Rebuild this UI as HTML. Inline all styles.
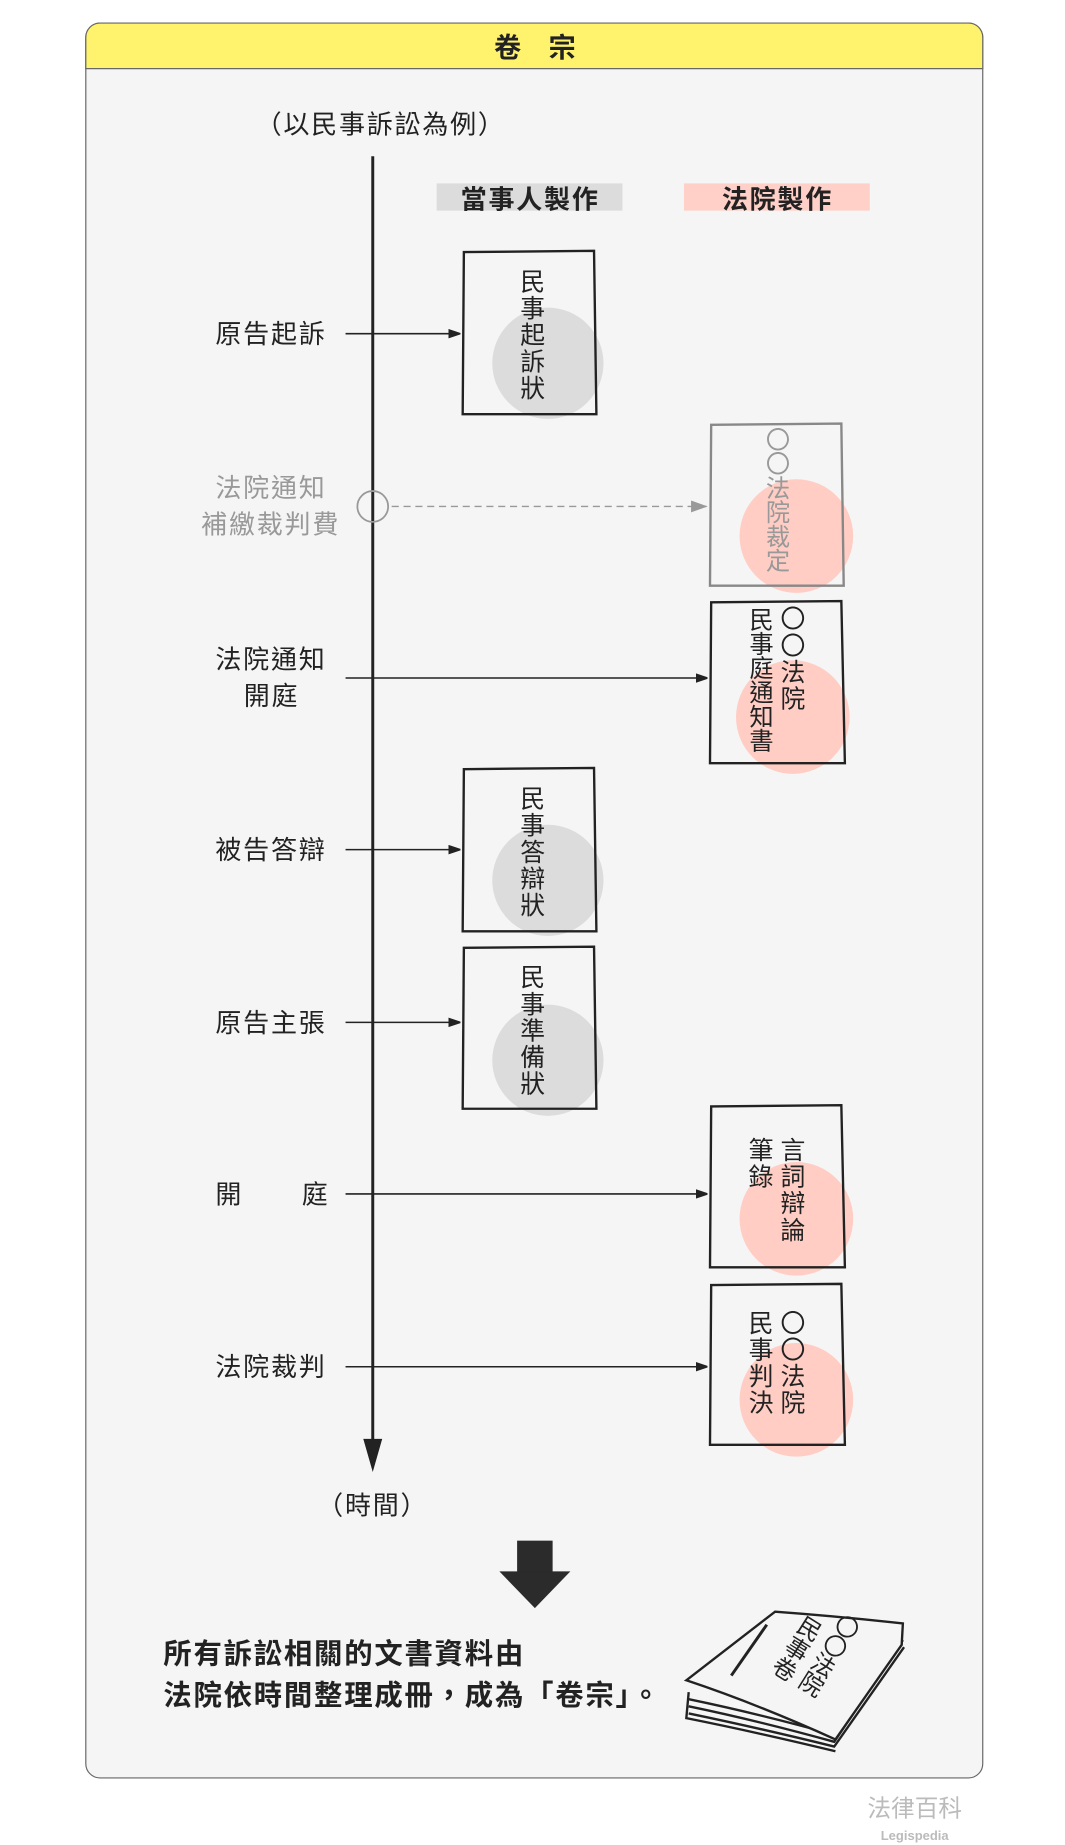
<!DOCTYPE html>
<html><head><meta charset="utf-8"><style>
html,body{margin:0;padding:0;background:#fff;}
svg{display:block;}
text{font-family:"Liberation Sans","Noto Sans CJK TC",sans-serif;}
.v{writing-mode:vertical-rl;letter-spacing:1.5px;font-size:21px;fill:#222;}
.v6{letter-spacing:0px;font-size:20.5px;}
.lbl{font-size:22px;fill:#222;letter-spacing:1.5px;}
.box{fill:none;stroke:#222;stroke-width:2;}
</style></head><body>
<svg width="1065" height="1845" viewBox="0 0 900 1559.2" xmlns="http://www.w3.org/2000/svg">
<defs>
<marker id="ah" markerWidth="10" markerHeight="8" refX="9" refY="4" orient="auto" markerUnits="userSpaceOnUse"><path d="M0,0 L12,4 L0,8z" fill="#222"/></marker>
<marker id="ahg" markerWidth="14" markerHeight="10" refX="13" refY="5" orient="auto" markerUnits="userSpaceOnUse"><path d="M0,0 L14,5 L0,10z" fill="#999"/></marker>
</defs>
<rect x="72.5" y="19.5" width="758" height="1483" rx="12" fill="#f5f5f5" stroke="#666" stroke-width="1"/>
<path d="M72.5,58 V31.5 a12,12 0 0 1 12,-12 H818.5 a12,12 0 0 1 12,12 V58 Z" fill="#fff36e" stroke="#666" stroke-width="1"/>
<text x="452" y="48" text-anchor="middle" font-size="23" font-weight="bold" fill="#222">卷　宗</text>
<text x="216" y="113" class="lbl">（以民事訴訟為例）</text>
<line x1="315" y1="132" x2="315" y2="1222" stroke="#222" stroke-width="2.5"/>
<path d="M307,1216 L323,1216 L315,1244 Z" fill="#222"/>
<text x="315" y="1280" text-anchor="middle" class="lbl">（時間）</text>
<rect x="369" y="155" width="157" height="23" fill="#dcdcdc"/>
<text x="448" y="176" text-anchor="middle" font-size="22" font-weight="bold" fill="#222" letter-spacing="1.5">當事人製作</text>
<rect x="578" y="155" width="157" height="23" fill="#ffd0c8"/>
<text x="657" y="176" text-anchor="middle" font-size="22" font-weight="bold" fill="#222" letter-spacing="1.5">法院製作</text>

<text x="182" y="290" class="lbl">原告起訴</text>
<line x1="292" y1="282" x2="388" y2="282" stroke="#222" stroke-width="1.3" marker-end="url(#ah)"/>
<circle cx="463" cy="307" r="47" fill="#dcdcdc"/>
<path class="box" d="M392,213 L502,212 L504,350 L391,350 Z"/>
<text x="448" y="227" class="v">民事起訴狀</text>

<text x="182" y="420" class="lbl" style="fill:#999">法院通知</text>
<text x="170" y="451" class="lbl" style="fill:#999">補繳裁判費</text>
<ellipse cx="315" cy="428" rx="13" ry="13" fill="none" stroke="#999" stroke-width="1.5"/>
<line x1="331" y1="428" x2="597" y2="428" stroke="#999" stroke-width="1.2" stroke-dasharray="6,4" marker-end="url(#ahg)"/>
<circle cx="673" cy="453" r="48" fill="#ffcdc4"/>
<path d="M601,359 L711,358 L713,495 L600,495 Z" fill="none" stroke="#888" stroke-width="2"/>
<text x="655" y="361" class="v v6" style="fill:#999">〇〇法院裁定</text>

<text x="182" y="565" class="lbl">法院通知</text>
<text x="206" y="596" class="lbl">開庭</text>
<line x1="292" y1="573" x2="597" y2="573" stroke="#222" stroke-width="1.3" marker-end="url(#ah)"/>
<circle cx="670" cy="606" r="48" fill="#ffcdc4"/>
<path class="box" d="M601,509 L711,508 L714,645 L600,645 Z"/>
<text x="668" y="512" class="v">〇〇法院</text>
<text x="641" y="513" class="v v6">民事庭通知書</text>

<text x="182" y="726" class="lbl">被告答辯</text>
<line x1="292" y1="718" x2="388" y2="718" stroke="#222" stroke-width="1.3" marker-end="url(#ah)"/>
<circle cx="463" cy="744" r="47" fill="#dcdcdc"/>
<path class="box" d="M392,650 L502,649 L504,787 L391,787 Z"/>
<text x="448" y="664" class="v">民事答辯狀</text>

<text x="182" y="872" class="lbl">原告主張</text>
<line x1="292" y1="864" x2="388" y2="864" stroke="#222" stroke-width="1.3" marker-end="url(#ah)"/>
<circle cx="463" cy="896" r="47" fill="#dcdcdc"/>
<path class="box" d="M392,801 L502,800 L504,937 L391,937 Z"/>
<text x="448" y="815" class="v">民事準備狀</text>

<text x="182" y="1017" class="lbl">開</text>
<text x="255" y="1017" class="lbl">庭</text>
<line x1="292" y1="1009" x2="597" y2="1009" stroke="#222" stroke-width="1.3" marker-end="url(#ah)"/>
<circle cx="673" cy="1030" r="48" fill="#ffcdc4"/>
<path class="box" d="M601,935 L711,934 L714,1071 L600,1071 Z"/>
<text x="668" y="961" class="v">言詞辯論</text>
<text x="641" y="961" class="v">筆錄</text>

<text x="182" y="1163" class="lbl">法院裁判</text>
<line x1="292" y1="1155" x2="597" y2="1155" stroke="#222" stroke-width="1.3" marker-end="url(#ah)"/>
<circle cx="673" cy="1183" r="48" fill="#ffcdc4"/>
<path class="box" d="M601,1086 L711,1085 L714,1221 L600,1221 Z"/>
<text x="668" y="1107" class="v">〇〇法院</text>
<text x="641" y="1107" class="v">民事判決</text>

<rect x="437" y="1302" width="30" height="30" fill="#2b2b2b"/>
<path d="M422,1328 L482,1328 L452,1359 Z" fill="#2b2b2b"/>

<text x="138" y="1406" font-size="24" font-weight="bold" fill="#222" letter-spacing="1.5">所有訴訟相關的文書資料由</text>
<text x="138" y="1441" font-size="24" font-weight="bold" fill="#222" letter-spacing="1.5">法院依時間整理成冊，成為「卷宗」。</text>

<g fill="none" stroke="#222" stroke-width="2">
<path d="M582,1436 Q640,1448 705,1466 L762,1380"/>
<path d="M582,1442 Q640,1454 705,1472 L763,1386"/>
<path d="M582,1448 Q640,1460 705,1476 L764,1392"/>
<path d="M582,1430 L580,1452 Q640,1464 706,1480"/>
<path d="M580,1420 L655,1362 Q710,1366 763,1372 L762,1390 L706,1470 Q640,1440 580,1420 Z" fill="#f5f5f5"/>
<line x1="618" y1="1416" x2="648" y2="1373" stroke-width="2.5"/>
</g>
<g transform="translate(662,1400) rotate(32)" font-size="20" fill="#222">
<text x="30" y="-60" class="v" style="letter-spacing:-1px;font-size:20px">〇〇法院</text>
<text x="4" y="-42" class="v" style="letter-spacing:0;font-size:20px">民事卷</text>
</g>

<text x="773" y="1535" text-anchor="middle" font-size="20" fill="#bbb">法律百科</text>
<text x="773" y="1555" text-anchor="middle" font-size="11" font-weight="bold" fill="#bbb">Legispedia</text>
</svg>
</body></html>
